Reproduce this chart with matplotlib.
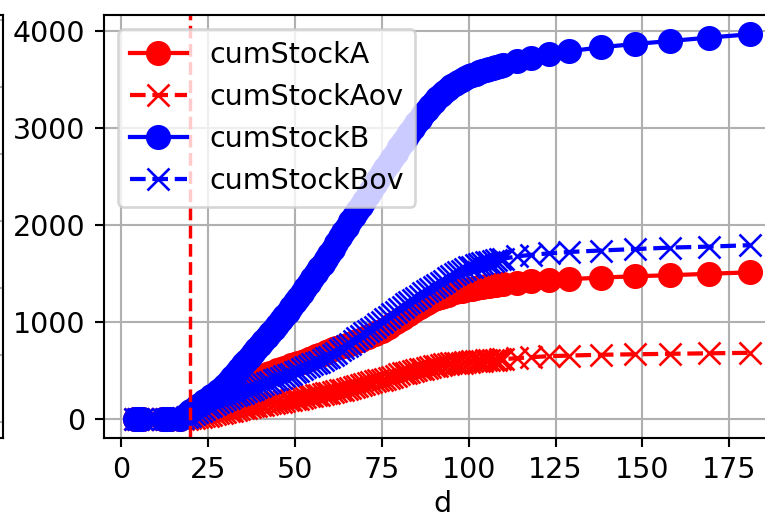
import numpy as np
import matplotlib
matplotlib.use('Agg')
import matplotlib.pyplot as plt

# days: a few early points, daily from 17 to 110, then sparse tail
days = ([4, 5, 6, 12, 13, 14] + list(range(17, 111))
        + [114, 118, 123, 129, 138, 148, 158, 169, 181])

cumStockA = [0, 0, 0, 0, 0, 0,
             0, 15, 35, 60, 85, 110, 135, 160, 180,
             200, 220, 240, 260, 280,
             295, 310, 330, 345, 360,
             375, 390, 400, 415, 430,
             445, 460, 475, 485, 500,
             510, 525, 535, 550, 560,
             575, 590, 600, 615, 630,
             645, 660, 670, 685, 700,
             715, 725, 740, 750, 765,
             775, 790, 805, 815, 830,
             845, 860, 875, 895, 910,
             930, 950, 975, 995, 1020,
             1040, 1065, 1085, 1110, 1130,
             1150, 1170, 1190, 1210, 1230,
             1245, 1255, 1270, 1280, 1295,
             1305, 1315, 1320, 1330, 1335,
             1340, 1350, 1355, 1360, 1365,
             1370, 1375, 1380, 1385, 1390,
             1405, 1420, 1430, 1440, 1455, 1470, 1480, 1495, 1510]

cumStockAov = [0, 0, 0, 0, 0, 0,
               0, 0, 0, 5, 10, 15, 20, 25, 30,
               40, 45, 55, 60, 70,
               80, 85, 95, 100, 110,
               115, 120, 130, 135, 140,
               145, 150, 160, 165, 170,
               175, 180, 190, 195, 200,
               205, 215, 220, 230, 235,
               240, 250, 255, 265, 270,
               280, 285, 295, 300, 310,
               320, 330, 340, 350, 360,
               370, 380, 390, 395, 400,
               410, 420, 430, 445, 460,
               470, 475, 485, 490, 500,
               510, 515, 525, 530, 540,
               545, 550, 560, 565, 570,
               575, 580, 580, 585, 590,
               595, 595, 600, 600, 605,
               605, 610, 610, 615, 615,
               625, 635, 645, 652, 660, 665, 670, 675, 680]

cumStockB = [0, 0, 0, 0, 0, 0,
             0, 20, 45, 80, 105, 130, 155, 180, 200,
             230, 260, 290, 320, 350,
             390, 430, 470, 515, 560,
             600, 640, 680, 720, 760,
             800, 845, 885, 930, 970,
             1015, 1060, 1105, 1150, 1200,
             1250, 1300, 1350, 1400, 1450,
             1500, 1550, 1600, 1650, 1700,
             1755, 1810, 1870, 1925, 1980,
             2035, 2090, 2140, 2195, 2250,
             2305, 2360, 2420, 2475, 2530,
             2585, 2640, 2690, 2745, 2800,
             2850, 2900, 2950, 3000, 3050,
             3095, 3140, 3185, 3230, 3270,
             3305, 3340, 3370, 3400, 3430,
             3450, 3470, 3490, 3510, 3530,
             3545, 3560, 3575, 3590, 3600,
             3610, 3620, 3630, 3640, 3650,
             3690, 3725, 3760, 3790, 3830, 3865, 3895, 3930, 3965]

cumStockBov = [0, 0, 0, 0, 0, 0,
               0, 5, 15, 30, 50, 70, 85, 105, 120,
               135, 150, 170, 185, 200,
               215, 230, 240, 255, 270,
               285, 300, 310, 325, 340,
               355, 370, 380, 395, 410,
               425, 440, 450, 465, 480,
               495, 510, 530, 545, 560,
               575, 590, 605, 625, 640,
               660, 680, 705, 725, 750,
               775, 800, 830, 855, 880,
               905, 930, 950, 975, 1000,
               1025, 1050, 1080, 1105, 1130,
               1155, 1180, 1200, 1225, 1250,
               1270, 1295, 1315, 1340, 1360,
               1380, 1405, 1425, 1450, 1470,
               1490, 1510, 1525, 1545, 1560,
               1570, 1585, 1595, 1605, 1615,
               1620, 1630, 1635, 1645, 1650,
               1675, 1690, 1705, 1720, 1735, 1750, 1765, 1775, 1790]

interventionDay = 20

plt.rcParams['font.size'] = 10.8
plt.rcParams['lines.linewidth'] = 1.6
plt.rcParams['lines.markersize'] = 8.5

fig = plt.figure(figsize=(765 / 190, 518 / 190), dpi=190)

# neighbouring subplot, only its right edge is inside the picture
axL = fig.add_axes([-0.5, 1 - 438 / 518, 0.5 + 3 / 765, 423 / 518])
axL.set_ylim(-0.24, 6.07)
axL.set_yticks(range(7))
axL.set_yticklabels([])
axL.set_xticks([])
axL.grid(True)

# the plot runs a little past the right edge of the picture
ax = fig.add_axes([104 / 765, 1 - 438 / 518, 677 / 765, 423 / 518])
ax.plot(days, cumStockA, 'r-o', label='cumStockA')
ax.plot(days, cumStockAov, 'r--x', label='cumStockAov')
ax.plot(days, cumStockB, 'b-o', label='cumStockB')
ax.plot(days, cumStockBov, 'b--x', label='cumStockBov')
ax.axvline(interventionDay, color='r', linestyle='--', linewidth=1.3)
ax.set_xticks([0, 25, 50, 75, 100, 125, 150, 175])
ax.set_xlabel('d', labelpad=2)
ax.grid(True)
ax.legend(loc='upper left')

fig.savefig('out.png', dpi=190)
